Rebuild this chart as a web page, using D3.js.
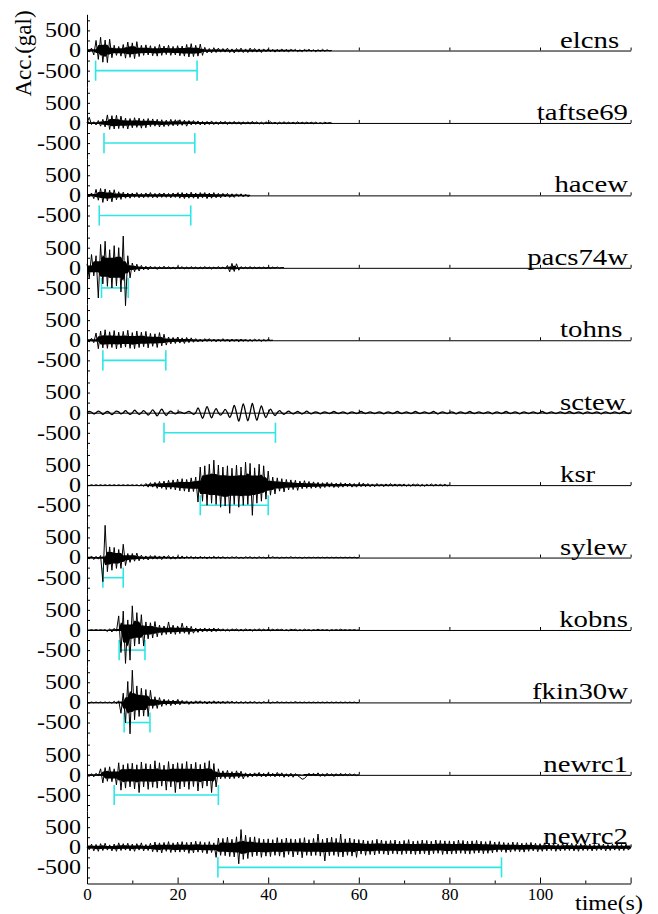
<!DOCTYPE html>
<html>
<head>
<meta charset="utf-8">
<script src="https://cdn.jsdelivr.net/npm/d3@7"></script>
<style>
  body { margin: 0; background: #fff; }
  svg { display: block; font-family: "Liberation Serif", "Times New Roman", serif; }
</style>
</head>
<body>
<svg id="chart" width="658" height="914"></svg>
<script>
// record names, top to bottom
const names = ['elcns', 'taftse69', 'hacew', 'pacs74w', 'tohns', 'sctew',
  'ksr', 'sylew', 'kobns', 'fkin30w', 'newrc1', 'newrc2'];

// peaks, one value every dt seconds (gal)
const dt = 0.5;

const elcns = [
  0,-30,60,-110,250,-220,330,-290,260,-300,280,-180,130,-120,100,-140,150,-190,210,-170,
  190,-200,220,-150,130,-120,140,-110,120,-130,100,-140,150,-120,110,-100,130,-120,100,-110,
  120,-130,110,-140,150,-160,170,-150,130,-140,160,-120,80,-60,50,-60,70,-50,60,-40,
  50,-40,60,-50,40,-60,50,-40,60,-50,40,-50,60,-40,50,-40,40,-50,40,-30,
  40,-30,30,-40,30,-30,40,-30,30,-40,30,-20,30,-30,20,-30,30,-20,30,-20,
  20,-30,20,-20,30,-20,20,-10,0
];
const taftse69 = [
  0,140,-40,30,-50,60,-80,90,-100,200,-160,180,-150,190,-140,170,-130,120,-150,110,
  -120,130,-110,120,-130,100,-120,110,-90,100,-80,90,-100,80,-90,70,-80,90,-70,80,
  -70,80,-60,70,-80,60,-50,60,-40,50,-50,40,-50,40,-40,50,-40,30,-40,40,
  -30,40,-40,30,-30,40,-30,30,-40,30,-30,30,-30,40,-20,30,-30,20,-30,30,
  -20,30,-20,20,-30,20,-20,30,-20,20,-20,20,-20,30,-20,20,-20,20,-20,20,
  -20,20,-20,10,-20,20,-10,10,0
];
const hacew = [
  0,-30,60,-80,150,-120,170,-175,160,-140,130,-160,140,-110,90,-100,80,-70,60,-70,
  60,-50,70,-60,50,-60,60,-50,70,-60,50,-60,60,-50,60,-50,50,-60,60,-50,
  60,-70,70,-80,60,-70,80,-70,60,-80,70,-60,70,-80,60,-70,70,-60,50,-60,
  50,-40,50,-50,40,-50,40,-30,40,-40,30,-30,0
];
const pacs74w = [
  100,-250,330,-200,300,-750,580,-400,660,-460,450,-500,550,-450,500,-600,790,-940,300,-250,
  120,-100,90,-80,60,-50,40,-50,40,-30,30,-40,30,-30,40,-30,30,-30,20,-30,
  30,-20,30,-30,20,-30,30,-20,20,-30,20,-20,30,-20,20,-30,20,-20,30,-20,
  20,-30,60,-100,110,-90,100,-60,30,-20,20,-20,30,-20,20,-20,20,-20,20,-20,
  20,-20,20,-10,20,-10,10,0
];
const tohns = [
  0,-40,50,-60,180,-210,230,-190,260,-200,210,-180,240,-215,200,-190,220,-170,250,-200,
  190,-210,230,-180,200,-160,220,-190,170,-150,160,-180,190,-140,150,-120,80,-90,70,-80,
  80,-70,60,-80,70,-60,60,-50,40,-40,30,-40,40,-30,40,-30,30,-40,30,-30,
  40,-30,30,-40,30,-30,30,-40,30,-30,30,-30,20,-30,30,-20,20,-30,20,-20,
  20,-10,0
];
const sctew = [
  0,30,10,-30,0,40,10,-40,0,30,0,-50,0,40,20,-30,0,50,0,-40,
  0,60,10,-40,0,50,0,-60,0,70,0,-80,10,90,0,-70,0,40,0,-30,
  0,20,0,-20,10,30,0,-40,0,120,0,-140,0,150,10,-130,0,100,0,-60,
  0,80,0,-120,0,180,0,-210,0,220,10,-200,0,230,0,-190,0,170,0,-120,
  0,90,0,-70,0,50,0,-40,0,40,0,-30,0,30,0,-30,0,40,0,-30,
  0,20,0,-30,0,20,0,-20,0,30,0,-20,0,20,0,-30,0,20,0,-20,
  0,30,0,-20,0,20,0,-20,0,20,0,-30,0,20,0,-20,0,30,0,-20,
  0,20,0,-20,0,30,0,-20,0,20,0,-20,0,30,0,-30,0,20,0,-20,
  0,20,0,-30,0,20,0,-20,0,30,0,-20,0,20,0,-20,0,20,0,-30,
  0,20,0,-20,0,30,0,-20,0,20,0,-30,0,20,0,-20,0,20,0,-20,
  0,30,0,-20,0,20,0,-20,0,20,0,-20,0,30,0,-20,0,20,0,-30,
  0,20,0,-20,0,20,0,-30,0,20,0,-20,0,20,0,-20,0,30,0,-20,
  0
];
const ksr = [
  0,-10,10,-10,10,-10,10,-10,10,-10,10,-10,10,-10,10,-10,10,-10,10,-10,
  10,-10,10,-20,20,-30,40,-50,60,-50,70,-80,90,-80,100,-110,120,-100,130,-120,
  150,-140,160,-150,140,-170,180,-160,200,-420,450,-400,480,-500,520,-450,620,-480,500,-550,
  450,-520,480,-700,420,-480,500,-550,450,-500,570,-480,540,-750,430,-450,520,-400,480,-350,
  350,-250,200,-220,180,-150,160,-170,140,-120,130,-110,120,-130,100,-90,110,-80,90,-80,
  80,-70,70,-80,60,-60,70,-50,60,-60,50,-60,60,-50,50,-40,50,-50,40,-50,
  40,-40,50,-40,40,-40,30,-40,40,-30,30,-40,30,-30,40,-30,30,-30,30,-30,
  30,-30,20,-30,30,-20,30,-30,20,-30,20,-20,30,-20,20,-20,20,-20,20,-20,
  0
];
const sylew = [
  0,-30,40,-50,30,-40,50,-600,800,-350,265,-315,250,-270,200,-270,330,-200,100,-120,
  100,-90,110,-80,60,-50,40,-60,50,-40,50,-40,40,-50,40,-30,50,-40,30,-40,
  30,-30,40,-30,30,-20,30,-30,20,-30,30,-20,20,-30,20,-20,30,-20,20,-20,
  20,-20,10,-20,20,-10,20,-20,10,-20,20,-10,20,-20,10,-20,20,-10,10,-20,
  10,-10,20,-10,10,-20,10,-10,10,-10,20,-10,10,-10,10,-20,10,-10,10,-10,
  10,-10,10,-10,10,-10,10,-10,10,-10,10,-10,10,-10,10,-10,10,-10,10,-10,
  0
];
const kobns = [
  0,-10,10,-10,10,-10,10,-10,10,-40,30,-50,40,-30,350,-560,470,-830,250,-750,
  600,-400,430,-350,380,-400,200,-220,180,-200,210,-170,120,-130,100,-110,200,-100,120,-110,
  100,-90,170,-80,100,-110,90,-80,50,-60,40,-50,50,-40,40,-50,50,-40,40,-30,
  30,-30,20,-30,30,-20,30,-30,20,-30,30,-20,20,-30,20,-20,30,-20,20,-20,
  20,-20,20,-20,20,-10,20,-20,10,-20,20,-10,20,-20,10,-20,20,-10,10,-20,
  10,-10,20,-10,10,-10,10,-20,10,-10,10,-10,20,-10,10,-10,10,-10,10,-10,
  0
];
const fkin30w = [
  0,-10,10,-10,10,-10,10,-10,10,-10,10,-20,30,-30,40,-270,230,-510,520,-780,
  800,-430,410,-350,350,-340,320,-350,300,-150,140,-150,120,-100,80,-70,70,-80,60,-60,
  70,-60,50,-40,40,-50,30,-40,40,-30,40,-30,30,-40,30,-30,40,-30,30,-30,
  30,-30,30,-20,30,-20,20,-20,20,-20,20,-20,20,-10,20,-20,10,-20,20,-10,
  10,-20,10,-10,20,-10,10,-10,10,-10,10,-10,20,-10,10,-10,10,-10,10,-10,
  10,-10,10,-10,10,-10,10,-10,10,-10,10,-10,10,-10,10,-10,10,-10,10,-10,
  0
];
const newrc1 = [
  0,-40,30,-50,40,-30,150,-200,180,-160,200,-170,150,-250,300,-380,250,-330,280,-300,
  290,-350,250,-440,320,-300,280,-360,260,-310,350,-330,300,-280,240,-380,330,-300,270,-440,
  300,-350,280,-300,330,-360,270,-290,310,-400,260,-330,300,-280,350,-440,280,-300,150,-100,
  100,-90,110,-100,80,-90,100,-80,90,-100,50,-60,40,-50,50,-40,60,-50,40,-50,
  50,-40,40,-50,60,-40,50,-60,30,-50,40,-60,30,-20,-60,-110,-90,-30,40,-30,
  40,-30,50,-40,30,-40,40,-30,30,-40,30,-30,40,-30,30,-20,30,-20,20,-20,
  0
];
const newrc2 = [
  0,-60,80,-90,70,-100,90,-80,100,-70,60,-90,80,-100,110,-80,90,-70,100,-90,
  80,-100,90,-70,110,-90,70,-80,100,-110,130,-120,110,-140,120,-100,140,-130,110,-120,
  130,-120,140,-110,120,-150,130,-140,150,-120,140,-130,120,-160,140,-130,110,-250,230,-200,
  220,-210,250,-230,200,-240,260,-410,440,-300,300,-280,250,-230,260,-210,220,-250,200,-220,
  210,-230,190,-200,240,-220,200,-250,230,-180,210,-240,200,-190,220,-260,240,-200,190,-210,
  220,-200,330,-220,200,-340,230,-210,250,-200,220,-230,330,-240,210,-200,230,-220,200,-250,
  190,-170,180,-200,160,-180,170,-190,200,-160,180,-170,160,-190,170,-160,180,-170,150,-180,
  170,-160,190,-170,150,-180,160,-170,180,-160,170,-190,150,-160,180,-150,170,-180,160,-170,
  160,-170,150,-160,180,-150,170,-160,150,-170,160,-150,170,-140,150,-160,140,-150,160,-140,
  130,-120,140,-110,120,-130,110,-120,130,-100,120,-110,100,-120,110,-100,120,-90,100,-110,
  90,-100,110,-90,100,-80,90,-100,80,-90,100,-80,90,-80,100,-90,80,-100,90,-80,
  90,-80,80,-90,70,-80,90,-70,80,-90,70,-80,80,-70,90,-80,70,-80,80,-70,
  0
];

// cyan bars: [start, end] in seconds
const spans = [
  [1.9, 24.3], [3.75, 23.8], [2.7, 22.9], [3.2, 9.1], [3.5, 17.4], [17.0, 41.6],
  [25.0, 40.0], [3.5, 8.0], [7.1, 12.8], [8.2, 13.9], [6.0, 29.0], [28.9, 91.5]
];

const accTicks = [-750, -500, -250, 0, 250, 500, 750];
const accLabels = [-500, 0, 500];
const timeMajor = [0, 20, 40, 60, 80, 100, 120];
const timeMinor = [10, 30, 50, 70, 90, 110];
const timeLabels = [0, 20, 40, 60, 80, 100];

const records = [elcns, taftse69, hacew, pacs74w, tohns, sctew,
  ksr, sylew, kobns, fkin30w, newrc1, newrc2];

const margin = { top: 14.3, left: 87 };
const width = 543.6;
const height = 869.2;
const rowH = height / names.length;
const stretch = 1.2;   // the original figure is stretched sideways
const coreShare = 0.55; // how much of the smaller nearby peaks is drawn as dense core
const cyan = "#2ee6e6";
const serif = '"Liberation Serif", "Times New Roman", Times, serif';

const svg = d3.select("#chart");

const x = d3.scaleLinear()
  .domain([0, 120])
  .range([margin.left, margin.left + width]);

// dense core of a record: built from the smallest nearby peak on each side,
// so that isolated spikes stick out of a filled band
function core(values) {
  const peaks = values.map((v, k) => ({ t: k * dt, v }));
  return peaks.map(p => {
    const near = peaks.filter(q => Math.abs(q.t - p.t) <= 1.25);
    const ups = near.filter(q => q.v > 0).map(q => q.v);
    const downs = near.filter(q => q.v < 0).map(q => q.v);
    return {
      t: p.t,
      hi: ups.length ? coreShare * d3.min(ups) : 0,
      lo: downs.length ? coreShare * d3.max(downs) : 0
    };
  });
}

names.forEach((name, i) => {
  const y = d3.scaleLinear()
    .domain([-900, 900])
    .range([margin.top + (i + 1) * rowH, margin.top + i * rowH]);

  const g = svg.append("g").attr("class", `row row-${i}`);

  // cyan duration bar at -500 gal
  const [s0, s1] = spans[i];
  const bar = g.append("g")
    .attr("stroke", cyan)
    .attr("stroke-width", 1.6);
  bar.append("line")
    .attr("x1", x(s0)).attr("x2", x(s1))
    .attr("y1", y(-500)).attr("y2", y(-500));
  [s0, s1].forEach(s => {
    bar.append("line")
      .attr("x1", x(s)).attr("x2", x(s))
      .attr("y1", y(-250)).attr("y2", y(-750));
  });

  // zero line with small ticks every 20 s
  g.append("g")
    .attr("transform", `translate(0,${y(0)})`)
    .call(d3.axisTop(x)
      .tickValues(timeMajor.slice(1))
      .tickSize(3)
      .tickSizeOuter(0)
      .tickFormat(""))
    .selectAll("text").remove();

  // waveform (sctew is a long-period record, drawn smooth)
  const smooth = name === "sctew";

  if (!smooth) {
    const band = d3.area()
      .x(d => x(d.t))
      .y0(d => y(d.lo))
      .y1(d => y(d.hi));
    g.append("path")
      .datum(core(records[i]))
      .attr("d", band)
      .attr("fill", "#000");
  }

  const line = d3.line()
    .curve(smooth ? d3.curveCatmullRom.alpha(0.5) : d3.curveLinear)
    .x((d, k) => x(k * dt))
    .y(d => y(d));

  g.append("path")
    .datum(records[i])
    .attr("d", line)
    .attr("fill", "none")
    .attr("stroke", "#000")
    .attr("stroke-width", smooth ? 1.3 : 1)
    .attr("stroke-linejoin", "round");

  // acceleration axis for this row
  const ax = g.append("g")
    .attr("transform", `translate(${margin.left},0)`)
    .call(d3.axisLeft(y)
      .tickValues(accTicks)
      .tickSize(-3)
      .tickSizeOuter(0)
      .tickPadding(5)
      .tickFormat(d => accLabels.includes(d) ? String(d) : ""));
  ax.attr("font-family", serif).attr("font-size", 20);
  ax.selectAll("text")
    .filter(function () { return this.textContent === ""; })
    .remove();
  ax.selectAll("text")
    .attr("fill", "#000")
    .attr("transform", `scale(${stretch},1)`);

  // record name
  const label = g.append("text")
    .attr("font-family", serif)
    .attr("font-size", 24)
    .attr("fill", "#000")
    .text(name);
  const w = label.node().getComputedTextLength() * stretch;
  const lx = Math.min(560, 628 - w);
  label.attr("transform", `translate(${lx},${y(0) - 3}) scale(${stretch},1)`);
});

// time axis
const bottom = margin.top + height;
const xAxis = svg.append("g")
  .attr("transform", `translate(0,${bottom})`)
  .call(d3.axisBottom(x)
    .tickValues(timeMajor)
    .tickSize(-6)
    .tickSizeOuter(0)
    .tickPadding(4)
    .tickFormat(d => timeLabels.includes(d) ? String(d) : ""));
xAxis.attr("font-family", serif).attr("font-size", 17);
xAxis.selectAll("text")
  .filter(function () { return this.textContent === ""; })
  .remove();
xAxis.selectAll("text").attr("fill", "#000");

const minor = svg.append("g")
  .attr("transform", `translate(0,${bottom})`)
  .call(d3.axisBottom(x)
    .tickValues(timeMinor)
    .tickSize(-3)
    .tickSizeOuter(0)
    .tickFormat(""));
minor.select(".domain").remove();
minor.selectAll("text").remove();

// axis titles
svg.append("text")
  .attr("transform", `translate(575,910) scale(${stretch},1)`)
  .attr("font-family", serif)
  .attr("font-size", 20)
  .text("time(s)");

svg.append("text")
  .attr("transform", "translate(31,53.5) rotate(-90)")
  .attr("text-anchor", "middle")
  .attr("font-family", serif)
  .attr("font-size", 23)
  .text("Acc.(gal)");
</script>
</body>
</html>
